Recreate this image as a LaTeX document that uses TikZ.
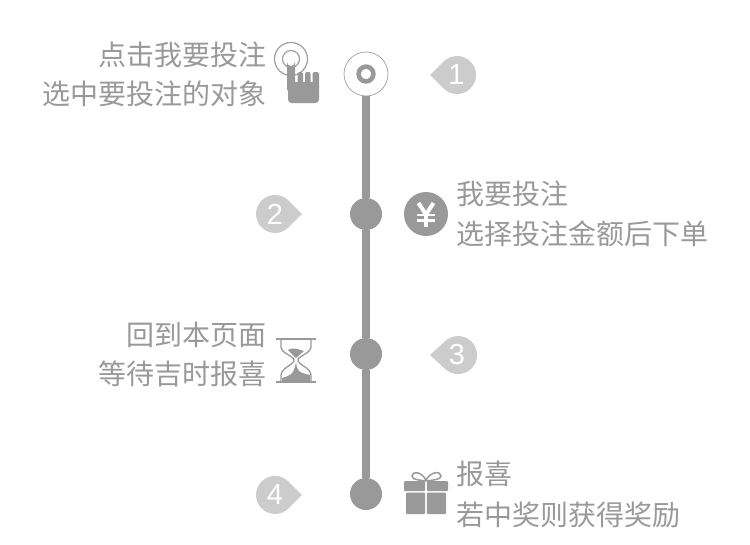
\documentclass[tikz,border=0pt]{standalone}
\usepackage{fontspec}
\newfontfamily\cjk{Noto Sans CJK SC}
\setmainfont{Liberation Sans}
\begin{document}
\begin{tikzpicture}[x=1pt,y=-1pt,
  caption/.style={font=\cjk\fontsize{28}{45}\selectfont,text=txtgray,inner sep=0pt,align=left},
  captionr/.style={caption,align=right},
  dotstep/.style={circle,fill=darkgray1,draw=none,minimum size=32pt,inner sep=0pt},
  startstep/.style={circle,fill=white,draw=ringgray,line width=.7pt,minimum size=44pt,inner sep=0pt},
  digit/.style={font=\fontsize{29}{29}\selectfont,text=white,inner sep=0pt},
  tear/.style={fill=lightgray1},
  icon/.style={fill=darkgray1,draw=none}]
\definecolor{txtgray}{HTML}{999999}
\definecolor{darkgray1}{HTML}{999999}
\definecolor{lightgray1}{HTML}{CCCCCC}
\definecolor{ringgray}{HTML}{A0A0A0}
\useasboundingbox (0,0) rectangle (750,544);
\fill[white] (0,0) rectangle (750,544);
% steps and spine
\node[startstep] (s1) at (366,74) {};
\node[dotstep] (s2) at (366,214) {};
\node[dotstep] (s3) at (366,354) {};
\node[dotstep] (s4) at (366,494) {};
\draw[darkgray1,line width=8pt] (s1) -- (s2);
\draw[darkgray1,line width=8pt] (s2) -- (s3);
\draw[darkgray1,line width=8pt] (s3) -- (s4);
\draw[darkgray1,line width=4.6pt] (s1.center) circle[radius=7.4];
% teardrops
\fill[tear] (430,75) -- (443.6,61.6) arc[start angle=225,delta angle=270,radius=19] -- cycle;
\node[digit] (n1) at (456.5,75) {1};
\fill[tear] (302,214) -- (288.5,200.5) arc[start angle=-45,delta angle=-270,radius=19] -- cycle;
\node[digit] (n2) at (275,214) {2};
\fill[tear] (430,355) -- (444.6,341.6) arc[start angle=225,delta angle=270,radius=19] -- cycle;
\node[digit] (n3) at (457,355) {3};
\fill[tear] (302,495) -- (288.5,481.5) arc[start angle=-45,delta angle=-270,radius=19] -- cycle;
\node[digit] (n4) at (275,495) {4};
% captions
\node[captionr,anchor=east] (c1a) at (267,55) {点击我要投注};
\node[captionr,anchor=east] (c1b) at (267,94) {选中要投注的对象};
\node[caption,anchor=west] (c2a) at (456.5,194) {我要投注};
\node[caption,anchor=west] (c2b) at (456.5,234) {选择投注金额后下单};
\node[captionr,anchor=east] (c3a) at (267,335) {回到本页面};
\node[captionr,anchor=east] (c3b) at (267,374) {等待吉时报喜};
\node[caption,anchor=west] (c4a) at (456.5,474) {报喜};
\node[caption,anchor=west] (c4b) at (456.5,515) {若中奖则获得奖励};
% hand icon
\draw[ringgray,line width=1.2pt] (291,59) circle[radius=16.5];
\draw[ringgray,line width=1.2pt] (291,59) circle[radius=8.5];
\fill[darkgray1,rounded corners=3.5pt] (288,82) -- (288,103) -- (319,103) -- (319,82) -- cycle;
\fill[darkgray1,rounded corners=2pt] (297.5,90) -- (297.5,72) -- (303,72) -- (303,90) -- cycle;
\fill[darkgray1,rounded corners=2pt] (305,90) -- (305,72) -- (310.5,72) -- (310.5,90) -- cycle;
\fill[darkgray1,rounded corners=2pt] (312.5,90) -- (312.5,72) -- (319,72) -- (319,90) -- cycle;
\fill[darkgray1] (287,90) -- (287,62) arc[start angle=180,end angle=0,radius=4] -- (295,90) -- cycle;
% yen
\node[circle,icon,minimum size=44pt,inner sep=0pt] (yen) at (426,214) {};
\draw[white,line width=4pt] (418.5,203) -- (426,214.5) -- (433.5,203);
\draw[white,line width=4pt] (426,214) -- (426,227);
\draw[white,line width=2.6pt] (417,215) -- (435,215);
\draw[white,line width=2.6pt] (417,220.5) -- (435,220.5);
% hourglass
\draw[darkgray1,line width=1.3pt] (276,339) -- (316,339);
\draw[darkgray1,line width=1.3pt] (276,382) -- (316,382);
\draw[darkgray1,line width=1.3pt] (281,339) -- (281,347) .. controls (282,354) and (294,356) .. (294,360) .. controls (294,365) and (282,367) .. (281,375) -- (281,382);
\draw[darkgray1,line width=1.3pt] (311,339) -- (311,347) .. controls (310,354) and (298,356) .. (298,360) .. controls (298,365) and (310,367) .. (311,375) -- (311,382);
\fill[darkgray1] (288,350) .. controls (291,347) and (298,349) .. (304,351) -- (296,358) -- cycle;
\fill[darkgray1] (282,381) -- (282,378) .. controls (288,376) and (294,376) .. (296,362) .. controls (297,374) and (303,373) .. (310,375) -- (310,381) -- cycle;
% gift
\draw[darkgray1,line width=1.5pt] (426,480) .. controls (421,471) and (412,471) .. (412,476) .. controls (412,480) and (420,480) .. (426,481) .. controls (432,480) and (441,480) .. (441,476) .. controls (441,471) and (431,471) .. (426,480);
\fill[darkgray1,rounded corners=1pt] (404,481) rectangle (425.2,491);
\fill[darkgray1,rounded corners=1pt] (426.8,481) rectangle (448,491);
\fill[darkgray1,rounded corners=1pt] (406,492.5) rectangle (425.2,514);
\fill[darkgray1,rounded corners=1pt] (426.8,492.5) rectangle (446,514);
\end{tikzpicture}
\end{document}
